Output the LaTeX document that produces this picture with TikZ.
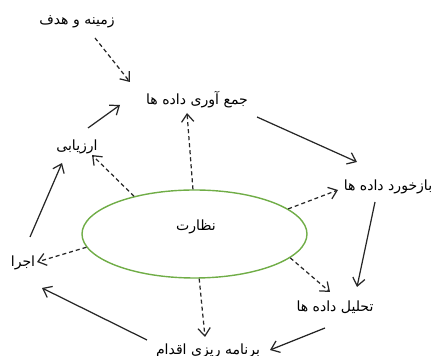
\documentclass[tikz,border=0pt]{standalone}
\usepackage{fontspec}
\newfontfamily\arabicfont[Script=Arabic]{DejaVu Sans}
\TeXXeTstate=1
\usetikzlibrary{arrows.meta, shapes.geometric}
\newcommand{\rtltext}[1]{{\arabicfont\beginR #1\endR}}

\begin{document}
\begin{tikzpicture}[
	x=0.2mm, y=-0.2mm,
	steptext/.style={inner sep=0pt, font=\fontsize{8}{9}\selectfont},
	hub/.style={ellipse, draw={rgb,255:red,112;green,173;blue,71}, line width=0.8pt, minimum width=45mm, minimum height=17.6mm, inner sep=0pt},
	connect/.style={-{Straight Barb[length=4.5pt,width=7pt]}, line width=0.7pt, draw=black!85},
	dashline/.style={connect, dash pattern=on 2.3pt off 1.7pt},
	]
	
	\useasboundingbox (0,0) rectangle (432,356);
	
	%-----------------------
	% Centre: monitoring
	%-----------------------
	\node[hub] (nezarat) at (194.5,234) {};
	\node[steptext] (nezaratText) at (196,227) {\rtltext{نظارت}};
	
	%-----------------------
	% Cycle steps
	%-----------------------
	\node[steptext] (zamine) at (77,22) {\rtltext{زمینه و هدف}};
	\node[steptext] (jam) at (197,100) {\rtltext{جمع آوری داده ها}};
	\node[steptext] (baz) at (388,187) {\rtltext{بازخورد داده ها}};
	\node[steptext] (tahlil) at (335,307) {\rtltext{تحلیل داده ها}};
	\node[steptext] (barname) at (208,351) {\rtltext{برنامه ریزی اقدام}};
	\node[steptext] (ejra) at (23,263) {\rtltext{اجرا}};
	\node[steptext] (arzyabi) at (77,147) {\rtltext{ارزیابی}};
	
	%-----------------------
	% Connections
	%-----------------------
	
	% cycle (solid)
	\draw[connect] ([shift={(60,17)}]jam.center) -- ([shift={(-31,-25)}]baz.center);
	\draw[connect] ([shift={(-13,15)}]baz.center) -- ([shift={(22,-20)}]tahlil.center);
	\draw[connect] ([shift={(-10,21)}]tahlil.center) -- ([shift={(62,-1)}]barname.center);
	\draw[connect] ([shift={(-61,-11)}]barname.center) -- ([shift={(19,25)}]ejra.center);
	\draw[connect] ([shift={(7,-26)}]ejra.center) -- ([shift={(-15,16)}]arzyabi.center);
	\draw[connect] ([shift={(11,-19)}]arzyabi.center) -- ([shift={(-77,5)}]jam.center);
	
	% context -> data collection
	\draw[dashline] ([shift={(18,16)}]zamine.center) -- ([shift={(-67,-18)}]jam.center);
	
	% monitoring -> steps (dashed)
	\draw[dashline] (nezarat.92) -- ([shift={(-10,13)}]jam.center);
	\draw[dashline] (nezarat.148) -- ([shift={(15,8)}]arzyabi.center);
	\draw[dashline] (nezarat.187) -- ([shift={(14,-1)}]ejra.center);
	\draw[dashline] (nezarat.-84) -- ([shift={(-3,-14)}]barname.center);
	\draw[dashline] (nezarat.15) -- ([shift={(-50,3)}]baz.center);
	\draw[dashline] (nezarat.-14) -- ([shift={(-5,-15)}]tahlil.center);
	
\end{tikzpicture}
\end{document}
